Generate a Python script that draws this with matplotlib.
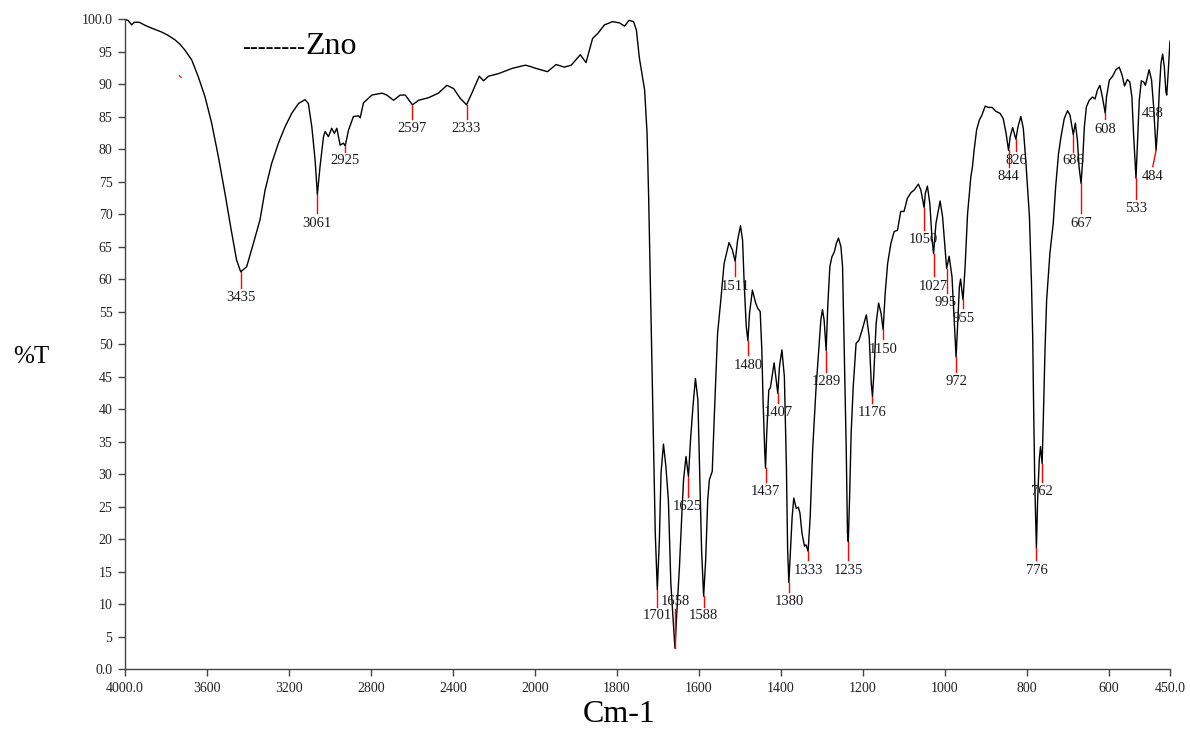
import numpy as np
import matplotlib.pyplot as plt

plt.rcParams['font.family'] = ['Liberation Serif', 'DejaVu Serif']

# Спектр (волновое число, %T)
wavenumber = [4000, 3985, 3967, 3955, 3930, 3900, 3870, 3821, 3790, 3756, 3731, 3707, 3674,
              3642, 3609, 3577, 3544, 3512, 3479, 3455, 3435, 3406, 3373, 3341, 3316, 3284,
              3251, 3219, 3186, 3153, 3121, 3105, 3088, 3072, 3061, 3048, 3031, 3023, 3007,
              2991, 2978, 2966, 2950, 2934, 2925, 2909, 2885, 2860, 2852, 2836, 2795, 2746,
              2722, 2689, 2657, 2632, 2597, 2567, 2518, 2470, 2429, 2396, 2364, 2333, 2307,
              2271, 2250, 2226, 2177, 2111, 2046, 2022, 1997, 1969, 1948, 1928, 1911, 1889,
              1875, 1859, 1846, 1830, 1810, 1793, 1781, 1770, 1759, 1752, 1746, 1744, 1732,
              1726, 1722, 1718, 1715, 1711, 1706, 1701, 1696, 1692, 1686, 1680, 1674, 1668,
              1658, 1654, 1647, 1641, 1637, 1631, 1625, 1620, 1614, 1608, 1602, 1598, 1593,
              1588, 1583, 1578, 1574, 1567, 1562, 1554, 1546, 1538, 1526, 1518, 1511, 1505,
              1498, 1493, 1489, 1484, 1480, 1476, 1469, 1461, 1456, 1450, 1446, 1443, 1439,
              1437, 1434, 1429, 1425, 1421, 1416, 1412, 1407, 1403, 1397, 1391, 1386, 1383,
              1380, 1376, 1372, 1368, 1362, 1357, 1353, 1348, 1342, 1338, 1333, 1328, 1322,
              1314, 1307, 1302, 1298, 1294, 1289, 1285, 1280, 1275, 1269, 1264, 1259, 1253,
              1249, 1245, 1240, 1237, 1235, 1232, 1228, 1223, 1216, 1209, 1201, 1191, 1184,
              1179, 1176, 1173, 1167, 1161, 1155, 1150, 1145, 1139, 1131, 1123, 1115, 1107,
              1099, 1091, 1082, 1074, 1064, 1058, 1050, 1047, 1042, 1036, 1031, 1027, 1021,
              1011, 1005, 995, 989, 982, 977, 972, 968, 964, 961, 958, 955, 950, 944, 936,
              932, 928, 922, 915, 909, 901, 893, 884, 875, 865, 857, 850, 844, 840, 834, 826,
              821, 814, 808, 802, 793, 788, 785, 783, 780, 776, 773, 769, 766, 762, 759, 755,
              751, 743, 735, 729, 722, 716, 708, 700, 694, 686, 681, 676, 672, 667, 663, 659,
              654, 647, 639, 633, 627, 621, 615, 608, 605, 598, 590, 582, 574, 567, 561, 554,
              548, 543, 539, 533, 529, 525, 520, 514, 510, 507, 501, 495, 490, 486, 484, 480,
              476, 472, 468, 464, 460, 458, 455, 450]
transmittance = [99.9, 99.8, 99.1, 99.5, 99.5, 99.0, 98.6, 98.0, 97.5, 96.8, 96.1, 95.2, 93.7,
                 91.1, 88.0, 84.0, 78.8, 73.2, 67.1, 62.9, 61.1, 61.9, 65.5, 69.1, 73.7, 77.8,
                 80.9, 83.4, 85.5, 87.0, 87.6, 87.0, 83.4, 78.3, 73.0, 77.3, 81.9, 82.7, 81.9,
                 83.2, 82.4, 83.2, 80.6, 80.9, 80.5, 82.9, 85.0, 85.1, 84.8, 87.1, 88.3, 88.6,
                 88.3, 87.5, 88.3, 88.3, 86.8, 87.5, 87.9, 88.6, 89.8, 89.3, 87.8, 86.8, 88.6,
                 91.2, 90.5, 91.2, 91.6, 92.4, 92.9, 92.7, 92.4, 91.9, 93.0, 92.6, 92.9, 94.5,
                 93.3, 97.0, 97.8, 99.1, 99.6, 99.4, 98.9, 99.8, 99.6, 98.3, 94.7, 93.7, 89.1,
                 82.4, 72.2, 59.3, 49.1, 36.3, 20.9, 12.2, 19.8, 30.1, 34.6, 31.1, 26.0, 13.2,
                 3.2, 8.0, 15.7, 24.0, 29.1, 32.7, 29.6, 35.2, 40.4, 44.7, 41.4, 31.1, 18.3,
                 11.2, 16.8, 26.0, 29.1, 30.4, 38.8, 51.6, 56.8, 62.4, 65.6, 64.5, 62.7, 66.0,
                 68.2, 66.0, 59.3, 52.7, 50.5, 54.7, 58.3, 56.3, 55.5, 55.0, 49.1, 41.4, 33.7,
                 30.9, 36.3, 42.9, 43.3, 45.0, 47.1, 45.0, 42.4, 46.5, 49.1, 45.0, 31.1, 18.3,
                 13.3, 18.3, 23.4, 26.3, 24.7, 24.9, 24.0, 20.9, 18.9, 19.1, 18.1, 23.4, 33.7,
                 42.9, 49.1, 53.7, 55.3, 53.7, 49.0, 56.0, 61.9, 63.4, 64.2, 65.5, 66.3, 65.0,
                 61.9, 49.1, 33.7, 20.9, 19.6, 26.0, 36.3, 43.4, 50.1, 50.6, 52.2, 54.5, 51.1,
                 44.0, 41.9, 45.0, 53.2, 56.3, 54.7, 52.2, 57.8, 62.4, 65.5, 67.3, 67.5, 70.4,
                 70.4, 72.4, 73.3, 73.7, 74.6, 73.7, 71.0, 73.2, 74.3, 71.6, 66.5, 63.9, 68.6,
                 72.0, 69.6, 61.6, 63.5, 60.4, 54.2, 48.0, 53.2, 58.8, 60.0, 58.3, 56.8, 61.9,
                 70.0, 75.7, 77.3, 79.8, 82.9, 84.5, 85.2, 86.6, 86.4, 86.4, 85.8, 85.5, 84.7,
                 82.4, 79.8, 81.9, 83.3, 81.5, 83.4, 85.0, 83.2, 78.3, 69.6, 59.3, 51.0, 41.4,
                 28.6, 18.6, 26.0, 32.2, 34.2, 31.6, 38.8, 49.1, 56.8, 64.0, 68.5, 74.2, 79.3,
                 81.9, 84.7, 85.9, 85.2, 82.2, 84.0, 81.4, 77.3, 74.7, 78.3, 83.4, 86.5, 87.5,
                 88.0, 87.7, 89.1, 89.8, 88.0, 85.5, 88.0, 90.6, 91.2, 92.2, 92.6, 91.4, 89.7,
                 90.7, 90.3, 88.0, 82.4, 75.5, 81.4, 87.5, 90.5, 90.3, 89.8, 90.6, 92.2, 90.6,
                 86.5, 81.9, 79.8, 83.4, 89.1, 93.2, 94.6, 92.7, 88.8, 88.3, 91.2, 96.6]

# Отмеченные пики: положение, %T в минимуме, подпись
peak_wn = [3435, 3061, 2925, 2597, 2333, 1701, 1658, 1625, 1588, 1511, 1480, 1437,
           1407, 1380, 1333, 1289, 1235, 1176, 1150, 1050, 1027, 995, 972, 955,
           844, 826, 776, 762, 686, 667, 608, 533, 484, 458]
peak_T = [61.1, 73.0, 80.5, 86.8, 86.8, 12.2, 3.2, 29.6, 11.2, 62.7, 50.5, 30.9,
          42.4, 13.3, 18.1, 49.0, 19.6, 41.9, 52.2, 71.0, 63.9, 61.6, 48.0, 56.8,
          79.8, 81.5, 18.6, 31.6, 82.2, 74.7, 85.5, 75.5, 79.8, 88.3]
peak_text = ['3435', '3061', '2925', '2597', '2333', '1701', '1658', '1625', '1588',
             '1511', '1480', '1437', '1407', '1380', '1333', '1289', '1235', '1176',
             '1150', '1050', '1027', '995', '972', '955', '844', '826', '776', '762',
             '686', '667', '608', '533', '484', '458']

# оформление подписей: конец красной черты и центр текста (%T), положение текста по x
line_end = [58.6, 70.1, 79.5, 84.6, 84.6, 9.5, 9.3, 26.4, 9.5, 60.4, 48.3, 28.8,
            41.0, 11.9, 16.8, 45.7, 16.8, 41.0, 50.7, 67.5, 60.4, 57.9, 45.7, 55.5,
            77.3, 79.7, 16.8, 28.8, 79.6, 70.1, 84.6, 72.3, 77.3, None]
text_y = [57.1, 68.6, 78.2, 83.1, 83.1, 8.2, 10.4, 25.0, 8.2, 58.9, 46.7, 27.3,
          39.4, 10.4, 15.1, 44.2, 15.1, 39.4, 49.2, 66.1, 58.9, 56.4, 44.2, 54.0,
          75.7, 78.2, 15.1, 27.3, 78.2, 68.6, 83.0, 70.8, 75.7, 85.5]
text_x = [3435, 3061, 2925, 2597, 2333, 1701, 1658, 1627, 1588, 1511, 1480, 1437,
          1407, 1380, 1332, 1289, 1235, 1176, 1149, 1051, 1027, 998, 972, 954,
          844, 826, 776, 762, 686, 667, 608, 533, 492, 492]


def forward(x):
    x = np.asarray(x, dtype=float)
    return np.where(x >= 2000, x, 2 * x - 2000)


def inverse(u):
    u = np.asarray(u, dtype=float)
    return np.where(u >= 2000, u, (u + 2000) / 2)


fig = plt.figure(figsize=(11.9, 7.29), dpi=100)
ax = fig.add_axes([0.105, 0.0823, 0.8782, 0.8916])
ax.set_xscale('function', functions=(forward, inverse))

ax.plot(wavenumber, transmittance, color='black', lw=1.0)

for i in range(len(peak_wn)):
    if line_end[i] is not None:
        # у 484 черта косая, у остальных вертикальная
        x_end = text_x[i] if abs(text_x[i] - peak_wn[i]) > 4 else peak_wn[i]
        ax.plot([peak_wn[i], x_end], [peak_T[i], line_end[i]], color='red', lw=1.0)
    ax.text(text_x[i], text_y[i], peak_text[i], ha='center', va='center',
            fontsize=10.5, color='#1a1a1a')

# маленькая красная черточка слева
ax.plot([3735, 3726], [91.3, 91.0], color='red', lw=0.8)

# подпись образца
ax.text(3121, 94.6, '--------', ha='right', va='baseline', fontsize=17)
ax.text(3121, 94.6, 'Zno', ha='left', va='baseline', fontsize=23)

ax.set_xlim(4000, 450)
ax.set_ylim(0, 100)
xt = [4000, 3600, 3200, 2800, 2400, 2000, 1800, 1600, 1400, 1200, 1000, 800, 600, 450]
ax.set_xticks(xt)
ax.set_xticklabels(['4000.0'] + [str(v) for v in xt[1:-1]] + ['450.0'])
yt = list(range(0, 101, 5))
ax.set_yticks(yt)
ax.set_yticklabels(['0.0'] + [str(v) for v in yt[1:-1]] + ['100.0'])
ax.minorticks_off()

for s in ['top', 'right']:
    ax.spines[s].set_visible(False)
for s in ['left', 'bottom']:
    ax.spines[s].set_color('#444444')
    ax.spines[s].set_linewidth(1.0)
ax.tick_params(direction='out', length=5, width=1, colors='#444444', labelcolor='#222222',
               labelsize=10, pad=4)

fig.text(0.52, 0.02, 'Cm-1', ha='center', va='center', fontsize=23)
fig.text(0.026, 0.51, '%T', ha='center', va='center', fontsize=18)

fig.savefig('out.png', dpi=100)
